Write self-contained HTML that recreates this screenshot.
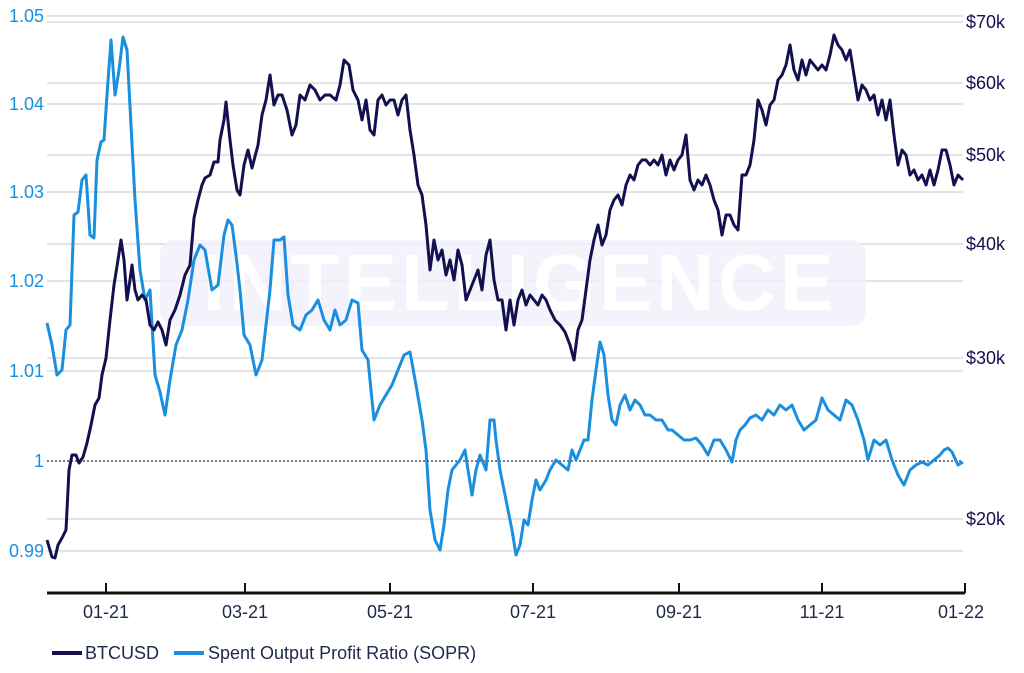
<!DOCTYPE html>
<html><head><meta charset="utf-8"><style>
body{margin:0;background:#fff;}
svg{display:block;font-family:"Liberation Sans",sans-serif;}
</style></head><body>
<svg width="1024" height="673" viewBox="0 0 1024 673">
<rect width="1024" height="673" fill="#fff"/>
<g stroke="#d4d4d8" stroke-width="1.2">
<line x1="47" x2="963" y1="16" y2="16"/><line x1="47" x2="963" y1="22" y2="22"/>
<line x1="47" x2="963" y1="83" y2="83"/><line x1="47" x2="963" y1="104" y2="104"/>
<line x1="47" x2="963" y1="155" y2="155"/><line x1="47" x2="963" y1="192" y2="192"/>
<line x1="47" x2="963" y1="244" y2="244"/><line x1="47" x2="963" y1="281" y2="281"/>
<line x1="47" x2="963" y1="358" y2="358"/><line x1="47" x2="963" y1="371" y2="371"/>
<line x1="47" x2="963" y1="519" y2="519"/><line x1="47" x2="963" y1="551" y2="551"/>
</g>
<rect x="160" y="240" width="706" height="86" rx="14" fill="#f1f0fb" opacity="0.8"/>
<text x="520" y="310" font-size="80" font-weight="bold" fill="#ffffff" text-anchor="middle" letter-spacing="4">INTELLIGENCE</text>
<line x1="47" x2="963" y1="461" y2="461" stroke="#1e2a4a" stroke-width="1.3" stroke-dasharray="2,2"/>
<g font-size="18" fill="#1a8fdf" text-anchor="end">
<text x="44" y="22">1.05</text><text x="44" y="110">1.04</text><text x="44" y="198">1.03</text>
<text x="44" y="287">1.02</text><text x="44" y="377">1.01</text><text x="44" y="467">1</text><text x="44" y="557">0.99</text>
</g>
<g font-size="18" fill="#12104e">
<text x="966" y="28">$70k</text><text x="966" y="89">$60k</text><text x="966" y="161">$50k</text>
<text x="966" y="250">$40k</text><text x="966" y="364">$30k</text><text x="966" y="525">$20k</text>
</g>
<polyline fill="none" stroke="#1a8fdf" stroke-width="3" stroke-linejoin="round" points="47,323 52,345 57,375 62,370 66,330 70,325 74,215 78,212 82,180 86,175 90,235 94,238 97,160 101,142 104,140 107,95 111,40 115,95 119,70 123,37 127,50 131,125 135,200 140,270 145,300 150,290 155,375 160,392 165,415 170,380 176,345 182,330 188,300 194,260 200,245 205,250 212,290 218,285 224,235 228,220 232,225 236,255 240,290 244,335 250,345 256,375 262,360 266,325 270,290 274,240 280,240 284,237 288,295 293,325 300,330 306,315 312,310 318,300 324,320 330,330 335,310 340,325 346,320 352,300 358,303 362,350 368,360 374,420 380,405 386,395 392,385 398,370 404,355 410,352 416,385 422,420 426,450 430,510 435,540 440,550 444,525 448,490 452,470 456,465 460,460 465,450 468,470 472,495 476,470 480,455 486,470 490,420 494,420 496,440 500,470 504,490 508,510 512,530 516,555 520,545 524,520 528,525 532,500 536,480 540,490 546,480 550,470 556,460 562,465 568,470 572,450 576,460 580,450 584,440 588,440 592,400 596,370 600,342 604,355 608,395 612,420 616,425 620,405 625,395 630,410 635,400 640,405 645,415 650,415 656,420 662,420 668,430 672,430 678,435 684,440 690,440 696,438 702,445 708,455 714,440 720,440 726,450 732,462 736,440 740,430 745,425 750,418 756,415 762,420 768,410 774,415 780,405 786,410 792,405 798,420 804,430 810,425 816,420 822,398 828,410 834,415 840,420 846,400 852,405 858,420 864,440 868,460 874,440 880,445 886,440 892,460 898,475 904,485 910,470 916,465 922,462 928,465 934,460 940,455 944,450 948,448 952,452 958,465 963,462"/>
<polyline fill="none" stroke="#12104e" stroke-width="3" stroke-linejoin="round" points="47,540 52,557 55,558 58,545 62,538 66,530 69,470 72,455 76,455 79,463 83,457 87,443 91,425 95,405 99,398 102,375 106,358 110,320 114,285 118,260 121,240 124,260 127,300 130,280 132,265 135,290 138,300 142,295 146,300 150,325 154,330 158,322 162,330 166,345 170,320 175,310 180,295 185,275 190,265 194,218 198,200 202,185 205,178 210,175 214,162 218,162 220,140 224,120 226,102 230,140 233,165 237,190 240,195 244,165 248,150 252,168 258,145 262,115 266,100 270,75 274,105 278,95 282,95 287,110 292,135 296,125 300,95 305,100 310,85 315,90 320,100 325,95 330,95 336,100 340,85 344,60 349,65 353,90 358,100 362,120 366,100 370,130 374,135 378,100 382,95 386,105 390,100 394,100 398,115 402,100 406,95 410,130 414,155 418,185 422,195 426,225 430,270 434,240 438,260 442,250 446,275 450,260 454,280 458,250 462,265 466,300 470,290 474,280 478,270 482,290 486,255 490,240 494,280 498,300 502,300 506,330 510,300 514,325 518,300 522,290 526,305 530,295 534,300 538,305 542,295 546,300 550,310 555,320 560,325 565,332 570,345 574,360 578,330 582,320 586,290 590,260 594,240 598,225 602,245 606,235 610,210 614,200 618,195 622,205 626,185 630,175 634,180 638,165 642,160 646,160 650,165 654,160 658,165 662,155 666,175 670,160 674,170 678,160 682,155 686,135 690,180 694,190 698,180 702,185 706,175 710,185 714,200 718,210 722,235 726,215 730,215 734,225 738,230 742,175 746,175 750,165 754,140 758,100 762,110 766,125 770,105 774,100 778,80 782,75 786,65 790,45 794,70 798,80 802,60 806,75 810,60 814,65 818,70 822,65 826,70 830,55 834,35 838,45 842,50 846,60 850,50 854,75 858,100 862,85 866,90 870,100 874,95 878,115 882,100 886,120 890,100 894,135 898,165 902,150 906,155 910,175 914,170 918,180 922,175 926,185 930,170 934,185 938,170 942,150 946,150 950,165 954,185 958,175 963,180"/>
<line x1="47" x2="965" y1="593" y2="593" stroke="#111" stroke-width="3"/>
<g stroke="#111" stroke-width="2">
<line x1="106" x2="106" y1="583" y2="593"/><line x1="245" x2="245" y1="583" y2="593"/>
<line x1="390" x2="390" y1="583" y2="593"/><line x1="533" x2="533" y1="583" y2="593"/>
<line x1="679" x2="679" y1="583" y2="593"/><line x1="822" x2="822" y1="583" y2="593"/>
<line x1="965" x2="965" y1="583" y2="593"/>
</g>
<g font-size="18" fill="#1e2a4a" text-anchor="middle">
<text x="106" y="618">01-21</text><text x="245" y="618">03-21</text><text x="390" y="618">05-21</text>
<text x="533" y="618">07-21</text><text x="679" y="618">09-21</text><text x="822" y="618">11-21</text><text x="961" y="618">01-22</text>
</g>
<line x1="52" x2="82" y1="653" y2="653" stroke="#12104e" stroke-width="4"/>
<text x="85" y="659" font-size="18" fill="#1e2a4a">BTCUSD</text>
<line x1="174" x2="204" y1="653" y2="653" stroke="#1a8fdf" stroke-width="4"/>
<text x="208" y="659" font-size="18" fill="#1e2a4a">Spent Output Profit Ratio (SOPR)</text>
</svg>
</body></html>
